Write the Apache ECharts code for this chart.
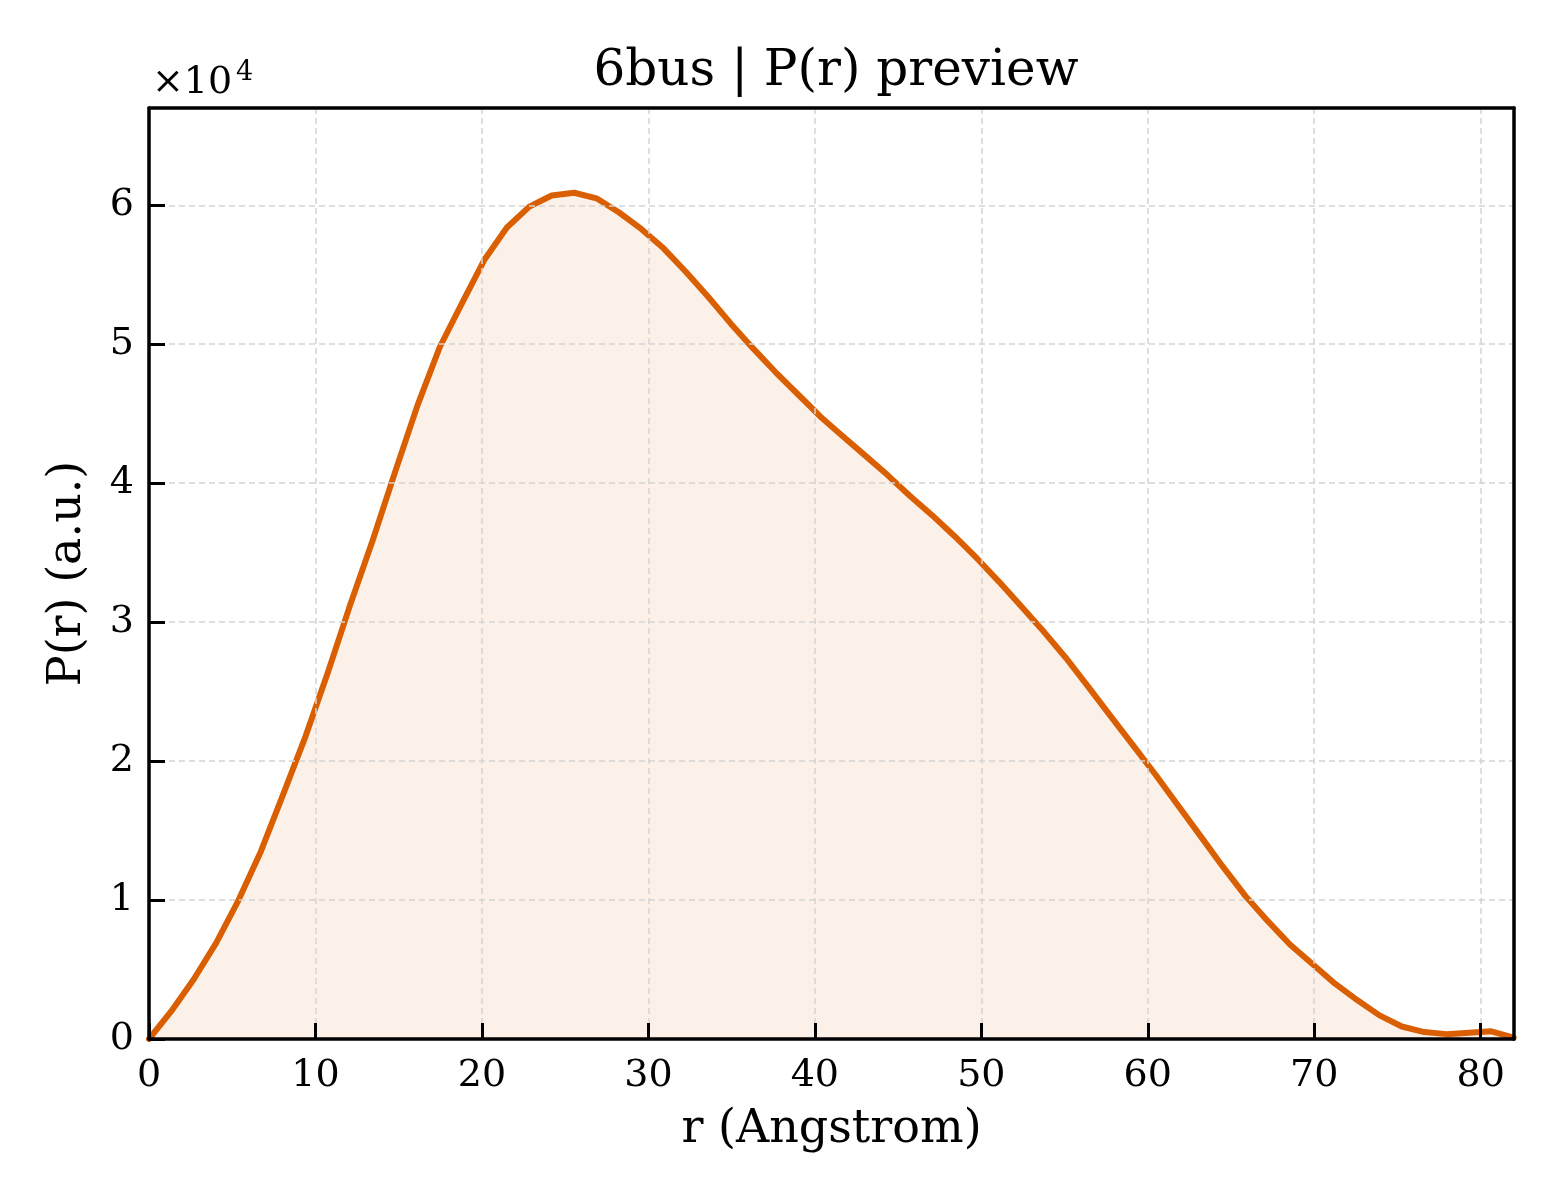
<!DOCTYPE html>
<html>
<head>
<meta charset="utf-8">
<script src="https://cdn.jsdelivr.net/npm/echarts@6/dist/echarts.min.js"></script>
<style>
html,body{margin:0;padding:0;background:#fff;}
#chart{width:1560px;height:1200px;}
</style>
</head>
<body>
<div id="chart"></div>
<script>
const titleText = '6bus | P(r) preview';
const xName = 'r (Angstrom)';
const yName = 'P(r) (a.u.)';
const xTicks = [0, 10, 20, 30, 40, 50, 60, 70, 80];
const yTicks = [0, 1, 2, 3, 4, 5, 6];
const rValues = [0,1.34,2.69,4.03,5.38,6.72,8.06,9.41,10.75,12.10,13.44,14.78,16.13,17.47,18.82,20.16,21.50,22.85,24.19,25.54,26.88,28.22,29.57,30.91,32.26,33.60,34.94,36.29,37.63,38.98,40.32,41.66,43.01,44.35,45.70,47.04,48.38,49.73,51.07,52.42,53.76,55.10,56.45,57.79,59.14,60.48,61.82,63.17,64.51,65.86,67.20,68.54,69.89,71.23,72.58,73.92,75.26,76.61,77.95,79.30,80.64,81.98];
const pValues = [0,2000,4300,6900,10000,13500,17600,21800,26400,31300,35900,40800,45600,49800,53000,56100,58400,59900,60700,60900,60500,59500,58300,56900,55200,53400,51500,49700,48000,46400,44800,43400,42000,40600,39100,37700,36200,34600,32900,31100,29300,27400,25300,23200,21100,19000,16800,14600,12400,10300,8500,6800,5400,4000,2800,1700,900,500,350,450,550,100];
const yScale = 10000;

const font = 'DejaVu Serif';
const chart = echarts.init(document.getElementById('chart'));
const data = rValues.map((r, i) => [r, pValues[i]]);

const frameAxis = {
  show: true,
  axisLine: {show: true, onZero: false, lineStyle: {color: '#000', width: 3.5}},
  axisTick: {show: false},
  axisLabel: {show: false},
  splitLine: {show: false}
};

chart.setOption({
  animation: false,
  backgroundColor: '#fff',
  title: {
    text: titleText,
    left: 831,
    top: 42,
    textAlign: 'center',
    textStyle: {fontFamily: font, fontSize: 50, fontWeight: 'normal', color: '#000'}
  },
  grid: {
    left: 149, right: 46, top: 108, bottom: 161
  },
  xAxis: [{
    type: 'value',
    min: 0, max: 82, interval: 10,
    name: xName,
    nameLocation: 'middle',
    nameGap: 68,
    nameTextStyle: {fontFamily: font, fontSize: 46, color: '#000'},
    axisLine: {show: true, onZero: false, lineStyle: {color: '#000', width: 3.5}},
    axisTick: {show: true, inside: true, length: 16, lineStyle: {color: '#000', width: 3}},
    axisLabel: {
      fontFamily: font, fontSize: 38, color: '#000', margin: 18,
      showMaxLabel: false,
      formatter: v => xTicks.includes(v) ? String(v) : ''
    },
    splitLine: {show: true, lineStyle: {color: '#d4d4d4', width: 1.5, type: [6, 4]}},
    z: 5
  }, Object.assign({type: 'value', position: 'top', min: 0, max: 82, z: 5}, frameAxis)],
  yAxis: [{
    type: 'value',
    min: 0, max: 67000, interval: 10000,
    name: yName,
    nameLocation: 'middle',
    nameGap: 58,
    nameRotate: 90,
    nameTextStyle: {fontFamily: font, fontSize: 46, color: '#000'},
    axisLine: {show: true, onZero: false, lineStyle: {color: '#000', width: 3.5}},
    axisTick: {show: true, inside: true, length: 16, lineStyle: {color: '#000', width: 3}},
    axisLabel: {
      fontFamily: font, fontSize: 38, color: '#000', margin: 15,
      showMaxLabel: false,
      formatter: v => yTicks.includes(v / yScale) ? String(v / yScale) : ''
    },
    splitLine: {show: true, lineStyle: {color: '#d4d4d4', width: 1.5, type: [6, 4]}},
    z: 5
  }, Object.assign({type: 'value', position: 'right', min: 0, max: 67000, z: 5}, frameAxis)],
  graphic: [
    {type: 'text', left: 152, top: 64, z: 10, style: {text: '×10', fontFamily: font, fontSize: 38, fill: '#000'}},
    {type: 'text', left: 236, top: 59, z: 10, style: {text: '4', fontFamily: font, fontSize: 27, fill: '#000'}}
  ],
  series: [{
    type: 'line',
    xAxisIndex: 0,
    yAxisIndex: 0,
    data: data,
    showSymbol: false,
    symbol: 'none',
    smooth: false,
    clip: true,
    lineStyle: {color: '#D95F02', width: 6, join: 'round', cap: 'round'},
    areaStyle: {color: 'rgba(217,95,2,0.13)', origin: 'start'},
    z: 3
  }]
});
</script>
</body>
</html>
